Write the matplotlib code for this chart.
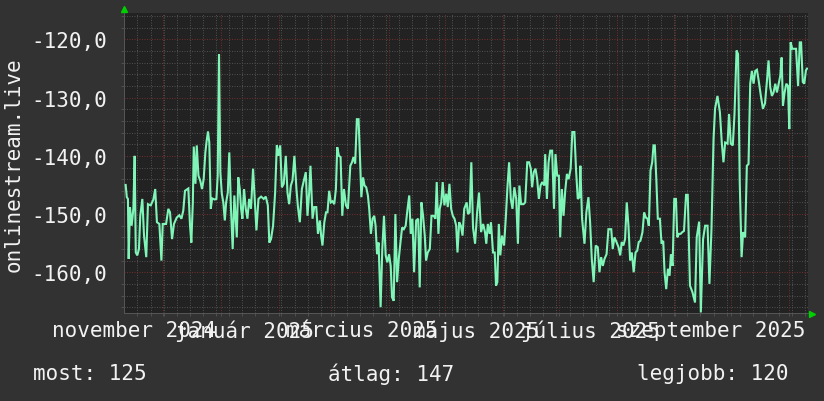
import matplotlib
matplotlib.use("Agg")
import matplotlib.pyplot as plt
import numpy as np

# ---- data: days since 2024-11-01, value ----
days = [
    10.2, 10.8, 11.4, 11.8, 12.5, 13.4, 14.3, 15.0, 15.6, 16.4, 17.3, 18.0, 19.1, 20.0, 21.2, 22.1,
    23.6, 25.0, 26.0, 26.9, 28.2, 29.3, 30.0, 31.8, 33.0, 33.9, 35.0, 36.0, 37.5, 38.9, 40.0, 41.0,
    41.9, 43.7, 44.6, 45.3, 46.1, 46.6, 47.5, 48.2, 49.1, 50.1, 51.0, 51.9, 52.8, 53.5, 54.2, 54.9,
    55.7, 56.4, 57.8, 58.7, 59.4, 60.1, 60.8, 61.6, 62.4, 63.2, 63.9, 64.8, 65.6, 66.5, 67.4, 68.3,
    69.6, 70.4, 71.2, 71.9, 72.6, 73.5, 74.4, 75.3, 76.2, 77.2, 78.3, 79.0, 80.1, 81.2, 82.6, 84.0,
    85.1, 86.2, 87.0, 87.9, 89.0, 90.1, 91.0, 91.8, 92.8, 93.7, 94.7, 95.8, 96.7, 97.6, 98.5, 99.4,
    100.4, 101.5, 102.3, 103.3, 104.4, 105.5, 106.5, 107.4, 108.3, 109.0, 110.1, 111.0, 112.1, 113.0,
    114.0, 114.7, 115.4, 116.4, 117.3, 118.1, 119.0, 119.9, 120.8, 121.7, 122.6, 123.3, 124.2, 125.1,
    126.0, 126.9, 128.0, 129.0,
    130.3, 131.2, 132.0, 132.9, 133.8, 134.7, 135.5, 136.2, 137.1, 137.9, 138.8, 139.7, 140.4, 141.3,
    142.2, 143.1, 143.8, 144.6, 145.4, 146.5, 147.4, 148.3, 149.2, 150.1, 151.0, 151.9, 152.6, 153.5,
    154.4, 155.3, 156.2, 157.1, 158.0, 158.9, 159.9, 160.9, 161.8, 162.6, 163.5, 164.4, 165.5, 166.6,
    167.4, 168.3, 169.2, 170.1, 170.8, 171.7, 172.8, 173.7, 174.9, 175.8, 176.5, 177.4, 178.1, 178.9,
    179.7, 180.6, 181.6, 182.4, 183.3, 184.2, 185.1, 186.0, 186.9, 187.6, 188.5, 189.4, 190.3, 191.2,
    192.5, 193.2, 194.1, 195.0, 195.9, 197.0, 198.1, 199.1, 200.2, 201.3, 202.3, 203.0, 203.8, 204.8,
    205.5, 206.6, 207.5, 208.2, 208.9, 209.7, 210.5, 211.4, 212.5, 213.4, 214.3, 215.2, 216.1, 217.0,
    218.0, 219.0, 219.9, 220.7, 221.6, 222.9, 223.8, 224.9, 225.9, 226.8, 227.5, 228.4, 229.3, 230.2,
    231.1, 232.0, 232.9, 234.0, 234.5, 235.4, 236.3, 237.2, 238.2, 239.2, 240.0, 240.9, 241.8, 242.5,
    243.4, 244.3, 245.2, 246.1, 247.0, 248.1, 249.0, 250.1, 251.0, 251.9, 252.8,
    253.3, 254.2, 255.5, 256.5, 257.6, 258.5, 259.4, 260.4, 261.5, 262.6, 263.5, 264.4, 265.3, 266.2,
    267.3, 268.3, 269.8, 270.6, 271.5, 272.6, 273.7, 274.6, 275.4, 276.3, 277.2, 278.1, 279.0, 279.9,
    280.8, 281.8, 282.8, 283.7, 284.5, 285.4, 286.5, 287.4, 288.3, 289.2, 289.9, 290.8, 291.7, 292.4,
    293.1, 293.9, 294.7, 295.8, 296.7, 297.6, 298.3, 299.2, 300.1, 301.0, 301.7, 302.6, 303.5, 304.4,
    305.1, 306.0, 306.9, 307.8, 308.7, 309.8, 310.7,
    311.9, 313.2, 314.6, 315.5, 316.8, 317.7, 318.9, 320.0, 321.3, 322.3, 323.4, 324.5, 325.3, 326.6,
    327.9, 328.9, 329.8, 330.7, 332.0, 332.8, 333.7, 334.8, 335.7, 336.8, 337.6, 338.5, 339.5, 340.3,
    341.4, 342.3, 343.2, 344.1, 345.0, 345.9, 346.8, 347.7, 348.6, 349.8, 350.9, 352.0, 353.0, 353.9,
    354.8, 355.7, 356.6, 357.5, 358.4, 359.3, 360.2, 360.9, 361.6, 362.5, 363.4, 364.3, 365.0, 365.7,
    366.6, 367.7, 368.6, 369.7, 370.6, 371.3, 372.2, 373.0, 373.9, 374.5,
]
values = [
    -145.0, -147.1, -147.4, -157.7, -148.8, -152.0, -149.1, -140.0, -156.6, -157.1, -156.0, -150.3, -147.4, -153.7, -157.4, -148.3,
    -148.5, -147.5, -145.7, -151.4, -151.7, -158.0, -151.7, -151.7, -149.1, -149.7, -154.3, -151.7, -150.6, -150.2, -150.8, -149.4,
    -146.0, -145.6, -152.0, -154.9, -148.0, -138.4, -144.8, -138.2, -143.4, -144.3, -145.7, -144.0, -139.4, -137.4, -135.8, -137.7,
    -149.1, -147.3, -147.5, -147.4, -143.4, -122.5, -142.8, -146.5, -148.0, -151.1, -148.0, -146.3, -139.4, -149.1, -156.0, -146.8,
    -154.0, -143.7, -145.7, -149.1, -150.8, -145.7, -149.1, -150.8, -147.4, -149.1, -142.2, -146.3, -152.8, -147.4, -147.0, -147.4,
    -147.0, -148.5, -154.9, -154.3, -152.0, -146.3, -138.2, -140.0, -138.2, -145.4, -144.8, -140.0, -146.3, -148.3, -145.1, -144.2,
    -140.0, -145.7, -148.8, -151.4, -145.7, -144.2, -142.8, -150.3, -146.3, -141.7, -150.8, -148.8, -148.8, -153.4,
    -151.1, -153.7, -155.4, -151.4, -149.7, -149.7, -146.0, -148.0, -147.8, -148.3, -145.7, -138.5, -140.0, -140.2,
    -150.3, -145.7, -148.5, -149.1,
    -141.7, -141.1, -140.2, -141.3, -133.7, -133.7, -140.5, -147.1, -143.7, -145.1, -145.4, -146.8, -149.1, -153.4,
    -150.8, -150.3, -152.0, -156.9, -154.9, -166.0, -156.0, -150.3, -157.1, -158.3, -156.9, -158.9, -164.3, -164.9,
    -150.0, -161.7, -157.7, -154.9, -152.3, -152.6, -152.0, -149.1, -146.8, -153.4, -150.8, -160.0, -151.1, -150.8,
    -162.6, -148.0, -150.3, -153.7, -158.0, -156.6, -156.0, -150.3, -150.3, -150.8, -144.5, -153.4, -149.1, -148.0,
    -144.5, -148.5, -146.5, -148.8, -144.8, -149.1, -150.3, -150.8, -152.0, -156.6, -151.4, -152.0, -153.7, -149.1,
    -148.0, -150.0, -149.7, -141.1, -152.3, -155.1, -149.7, -146.3, -153.1, -151.7, -153.1, -155.1, -151.7, -153.4,
    -151.4, -156.6, -156.6, -162.3, -161.7, -151.7, -157.1, -153.7, -155.4, -150.8, -145.4, -141.1, -147.4, -149.1,
    -145.4, -147.4, -155.1, -145.1, -148.3, -148.3, -148.0, -141.1, -141.1, -142.2, -145.4, -142.8, -142.2, -144.0,
    -147.4, -145.1, -144.5, -145.1, -139.7, -147.4, -141.1, -139.1, -139.1, -149.1, -139.7, -143.4, -143.4, -154.0,
    -145.7, -150.3, -146.0, -143.1, -144.0, -142.2, -135.9, -135.9, -142.5, -147.4, -147.1,
    -141.7, -150.8, -155.1, -149.7, -147.1, -151.4, -157.7, -161.7, -155.4, -155.7, -160.0, -157.4, -158.9, -157.7,
    -156.9, -152.6, -152.6, -156.0, -154.0, -154.8, -155.7, -157.1, -154.8, -155.4, -154.3, -148.0, -152.0, -158.0,
    -156.6, -160.0, -156.6, -156.3, -154.8, -154.6, -153.1, -149.7, -150.6, -150.8, -152.0, -142.5, -141.1, -138.2,
    -138.2, -144.0, -150.8, -150.8, -155.1, -154.6, -160.0, -162.9, -159.4, -160.6, -156.9, -158.9, -147.4, -147.4,
    -154.0, -153.4, -153.4, -153.1, -152.9, -146.7, -146.7,
    -162.3, -163.4, -165.2, -154.0, -151.3, -166.9, -154.3, -152.0, -152.0, -162.0, -152.5, -137.1, -131.9, -129.7,
    -132.5, -137.7, -141.1, -137.7, -137.9, -132.8, -137.9, -138.2, -132.8, -121.9, -122.5, -144.5, -157.4, -153.1,
    -154.0, -141.7, -141.4, -127.6, -125.4, -127.6, -125.4, -125.2, -127.0, -129.7, -131.9, -131.0, -127.3, -123.6,
    -128.2, -129.7, -129.1, -127.6, -129.1, -127.6, -126.2, -123.1, -131.4, -129.1, -127.6, -128.0, -135.4, -120.5,
    -121.6, -121.6, -121.6, -128.0, -120.5, -120.5, -127.3, -127.6, -125.3, -125.0,
]

y_ticks = [-160, -150, -140, -130, -120]
x_label_days = [14.7, 73.5, 136.5, 197.5, 258.6, 323.0]
x_labels = ["november 2024", "január 2025", "március 2025", "május 2025", "július 2025", "szeptember 2025"]
month_starts = [30, 61, 92, 120, 151, 181, 212, 242, 273, 304, 334, 365]
week_start = 16.5
summary = ["most: 125", "átlag: 147", "legjobb: 120"]
y_title = "onlinestream.live"

# ---- style ----
BG = "#323232"
CANVAS = "#222222"
LINE = "#7ff5b8"
MINOR = "#4e4e4e"
MAJOR = "#6e2c2c"
TXT = "#f2f2f2"
FONT = "DejaVu Sans Mono"
FS = 15

W, H = 824, 402
fig = plt.figure(figsize=(W / 100, H / 100), dpi=100, facecolor=BG)
L, R, T, B = 124, 808, 14, 314
ax = fig.add_axes([L / W, 1 - B / H, (R - L) / W, (B - T) / H])
ax.set_facecolor(CANVAS)

xmin, xmax = 9.3, 375.0
ymin, ymax = -167.0, -115.45
ax.set_xlim(xmin, xmax)
ax.set_ylim(ymin, ymax)

dot = (0, (1, 1.5))
gkw = dict(lw=0.72, ls=dot)
# minor grid
weeks = np.arange(week_start, xmax, 7)
for w in weeks:
    ax.axvline(w, color=MINOR, zorder=1, **gkw)
minor_y = [yv for yv in np.arange(-166, ymax, 2) if yv % 10 != 0]
for yv in minor_y:
    ax.axhline(yv, color=MINOR, zorder=1, **gkw)
# major grid
for m in month_starts:
    ax.axvline(m, color=MAJOR, zorder=1.5, **gkw)
for yv in y_ticks:
    ax.axhline(yv, color=MAJOR, zorder=1.5, **gkw)

ax.plot(days, values, color=LINE, lw=1.5, zorder=3, solid_joinstyle="miter")

# ticks
ax.set_yticks(y_ticks)
ax.set_yticklabels([f"{v:.1f}".replace(".", ",") for v in y_ticks])
ax.set_xticks(x_label_days)
ax.set_xticklabels(x_labels)
ax.set_xticks(list(weeks) + month_starts, minor=True)
ax.set_yticks(list(np.arange(-166, ymax, 2)), minor=True)
ax.tick_params(axis="both", which="major", length=0, colors=TXT, labelsize=FS)
ax.tick_params(axis="y", which="major", pad=12)
ax.tick_params(axis="x", which="major", pad=5)
ax.tick_params(axis="both", which="minor", length=2.5, color=MINOR, width=0.72)
for lab in ax.get_xticklabels() + ax.get_yticklabels():
    lab.set_fontfamily(FONT)
    lab.set_color(TXT)

for s in ["top", "right"]:
    ax.spines[s].set_visible(False)
for s in ["left", "bottom"]:
    ax.spines[s].set_color("#555555")
    ax.spines[s].set_linewidth(0.72)

# arrows
ax.plot([0.0], [1.015], marker="^", color="#00d000", ms=4.5, transform=ax.transAxes, clip_on=False)
ax.plot([1.006], [-0.003], marker=">", color="#00d000", ms=4.5, transform=ax.transAxes, clip_on=False)

# y title
fig.text(14 / W, 1 - 165 / H, y_title, rotation=90, ha="center", va="center",
         fontfamily=FONT, fontsize=FS, color=TXT)

# summary row
for txt, xpx in zip(summary, [33, 328, 637]):
    fig.text(xpx / W, 1 - 374 / H, txt, ha="left", va="center",
             fontfamily=FONT, fontsize=FS, color=TXT)

fig.savefig("out.png", dpi=100, facecolor=BG)
